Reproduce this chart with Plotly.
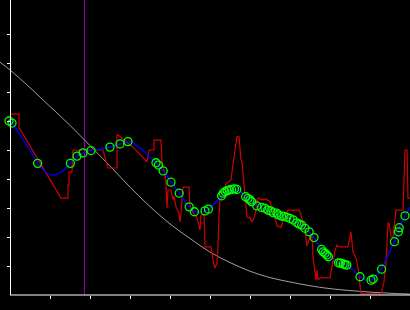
import plotly.graph_objects as go

# ---- data (x: 0..100, y: 0..100) ----
gray_x = [-2.5, 0, 5, 10, 15, 20, 25, 30, 35, 40, 45, 50, 55, 60, 65, 70, 75, 80, 90, 100]
gray_y = [80.3, 77.6, 71.5, 65.0, 58.5, 51.5, 44.5, 37.2, 30.5, 24.5, 19.5, 14.8, 11.2, 8.2, 6.0, 4.5, 3.2, 2.2, 1.0, 0.3]

red_x = [0, 2.25, 2.25, 2.5, 12.75, 14.5, 14.5, 14.75, 14.75, 15.5, 15.75, 23.25, 24.5, 26.75, 26.75, 27.0,
         31.25, 34.25, 34.75, 36.0, 36.0, 37.75, 38.0, 38.75, 39.0, 39.25, 39.5, 40.25, 40.75, 41.0, 41.5,
         42.25, 42.5, 42.75, 43.0, 43.25, 44.75, 45.0, 45.75, 46.5, 47.0, 47.25, 47.5, 47.75, 48.5, 48.75,
         50.25, 50.75, 51.25, 51.75, 52.0, 52.25, 52.5, 53.0, 53.25, 54.0, 54.5, 55.25, 55.5, 56.0, 56.25,
         56.5, 56.75, 57.25, 57.5, 57.75, 58.0, 58.25, 58.5, 59.0, 59.25, 60.0, 60.5, 61.0, 61.5, 61.75,
         62.0, 63.0, 64.0, 65.0, 66.0, 66.75, 67.75, 68.25, 69.0, 69.5, 72.25, 72.75, 73.75, 74.25, 74.75,
         75.5, 75.75, 76.25, 76.5, 76.75, 77.0, 77.5, 80.0, 80.5, 81.25, 81.75, 82.25, 84.5, 85.25, 85.75,
         86.5, 87.0, 87.5, 87.75, 92.75, 93.5, 94.0, 94.25, 94.5, 94.75, 95.25, 95.75, 96.5, 98.25, 98.5,
         98.75, 99.25, 99.5, 100.0]
red_y = [62.4, 62.4, 57.6, 57.2, 33.4, 33.4, 37.9, 37.9, 42.4, 42.4, 50.0, 50.0, 43.8, 43.8, 55.2, 55.2,
         50.3, 45.9, 50.0, 50.0, 53.4, 53.4, 45.5, 41.4, 38.6, 30.0, 36.2, 36.2, 32.8, 34.1, 30.3,
         28.3, 25.2, 27.9, 32.8, 37.2, 37.2, 31.0, 28.3, 27.2, 25.2, 23.1, 22.4, 27.6, 27.6, 16.6,
         16.6, 12.1, 9.3, 11.0, 16.6, 27.6, 32.8, 33.8, 35.2, 38.3, 39.0, 39.7, 42.4, 46.6, 50.0,
         52.4, 54.5, 54.5, 50.0, 46.6, 45.9, 42.4, 38.6, 31.7, 26.9, 26.6, 25.2, 26.6, 29.3, 32.8,
         33.4, 32.8, 33.1, 32.1, 27.9, 23.8, 23.4, 25.9, 28.3, 29.3, 29.3, 27.6, 22.1, 16.9, 19.0,
         20.3, 13.1, 7.6, 5.2, 8.6, 5.2, 5.9, 5.9, 9.7, 15.2, 17.2, 16.6, 16.6, 21.7, 14.8,
         12.8, 9.3, 2.8, 0.4, 0.4, 4.5, 11.0, 17.2, 24.8, 24.8, 20.3, 20.0, 29.3, 29.3, 39.0,
         50.0, 50.0, 33.4, 33.4]

blue_x = [0, 0.5, 2.5, 5.0, 6.9, 8.75, 10.0, 11.5, 13.25, 15.1, 16.75, 18.25, 20.25, 22.5, 25.0, 27.5,
          29.5, 30.5, 32.5, 35.0, 36.5, 38.3, 40.25, 42.3, 43.75, 44.8, 46.1, 47.5, 48.75, 49.6, 51.25,
          53.25, 55.0, 56.5, 57.75, 58.9, 60.0, 61.7, 63.25, 65.75, 69.2, 71.7, 73.75, 74.8, 76.0, 77.0,
          78.3, 79.6, 80.75, 82.1, 84.2, 85.5, 87.5, 88.75, 90.25, 90.8, 92.9, 94.5, 96.1, 97.1, 97.3,
          98.75, 100.0]
blue_y = [60.0, 59.3, 55.2, 50.0, 45.4, 42.4, 41.4, 41.4, 42.8, 45.4, 47.9, 49.0, 49.8, 50.3, 51.0, 52.1,
          52.9, 52.8, 50.7, 47.6, 45.6, 42.8, 38.9, 35.1, 32.4, 30.4, 28.7, 28.4, 29.0, 29.6, 31.7,
          34.5, 36.3, 36.4, 35.5, 33.9, 32.8, 30.7, 29.9, 28.2, 26.8, 24.9, 23.0, 21.8, 19.8, 17.6,
          14.9, 13.2, 12.1, 11.1, 10.3, 9.0, 6.3, 5.2, 5.1, 5.5, 8.9, 13.4, 18.4, 21.8, 23.2,
          27.3, 30.4]

green_x = [-0.25, 0.5, 6.9, 15.1, 16.75, 18.25, 20.25, 25.0, 27.5, 29.5, 36.5, 37.1, 38.3, 40.25, 42.3,
           44.8, 46.1, 48.75, 49.6, 52.9, 53.3, 53.75, 54.3, 54.8, 55.4, 56.1, 56.7, 58.9, 59.5, 60.0,
           60.4, 61.7, 62.9, 63.75, 64.4, 65.2, 65.8, 66.7, 67.1, 67.9, 68.5, 69.2, 70.0, 70.8, 71.7,
           72.25, 72.9, 73.75, 74.8, 76.0, 77.9, 78.3, 78.75, 79.2, 79.6, 82.1, 82.6, 83.3, 83.75, 84.2,
           87.5, 90.25, 90.8, 92.9, 96.1, 97.1, 97.3, 98.75]
green_y = [60.0, 59.3, 45.4, 45.4, 47.9, 49.0, 49.8, 51.0, 52.1, 52.9, 45.6, 44.8, 42.8, 38.9, 35.1,
           30.4, 28.7, 29.0, 29.6, 34.2, 35.1, 35.6, 36.0, 36.2, 36.4, 36.6, 36.4, 33.9, 33.3, 32.8,
           32.2, 30.7, 30.2, 29.9, 29.3, 29.0, 28.4, 28.2, 27.6, 27.2, 27.1, 26.8, 26.4, 25.9, 24.9,
           24.5, 24.1, 23.0, 21.8, 19.8, 15.7, 14.9, 14.4, 13.8, 13.2, 11.1, 11.0, 10.7, 10.5, 10.3,
           6.3, 5.1, 5.5, 8.9, 18.4, 21.8, 23.2, 27.3]

marker_x = 18.625
x_ticks = [10, 20, 30, 40, 50, 60, 70, 80, 90, 100]
y_ticks = [10, 20, 30, 40, 50, 60, 70, 80, 90]

fig = go.Figure()
fig.add_trace(go.Scatter(x=gray_x, y=gray_y, mode="lines",
                         line=dict(color="#a0a0a0", width=1, shape="spline"), hoverinfo="skip"))
fig.add_trace(go.Scatter(x=red_x, y=red_y, mode="lines",
                         line=dict(color="#d20000", width=1.2)))
fig.add_trace(go.Scatter(x=blue_x, y=blue_y, mode="lines",
                         line=dict(color="#0000ff", width=1.3)))
fig.add_trace(go.Scatter(x=green_x, y=green_y, mode="markers",
                         marker=dict(symbol="circle-open", size=8, color="#00ff00",
                                     line=dict(width=1.3, color="#00ff00"))))

fig.add_shape(type="line", xref="x", yref="paper", x0=marker_x, x1=marker_x, y0=0, y1=1,
              line=dict(color="#9000b0", width=1), layer="below")
fig.add_shape(type="line", xref="x", yref="paper", x0=0, x1=100, y0=0, y1=0,
              line=dict(color="#ffffff", width=1), layer="above")

fig.update_layout(
    width=410, height=310,
    margin=dict(l=0, r=0, t=0, b=15),
    paper_bgcolor="#000000", plot_bgcolor="#000000",
    showlegend=False,
    xaxis=dict(range=[-2.5, 100], showgrid=False, zeroline=False, showline=False,
               tickvals=x_ticks, showticklabels=False, ticks="outside", ticklen=3,
               tickwidth=1, tickcolor="#ffffff"),
    yaxis=dict(range=[0, 295 / 2.9], showgrid=False, zeroline=False, showline=True,
               linecolor="#ffffff", linewidth=1, anchor="free", position=10 / 410,
               tickvals=y_ticks, showticklabels=False, ticks="outside", ticklen=3,
               tickwidth=1, tickcolor="#ffffff"),
)

fig.write_html("out.html")
